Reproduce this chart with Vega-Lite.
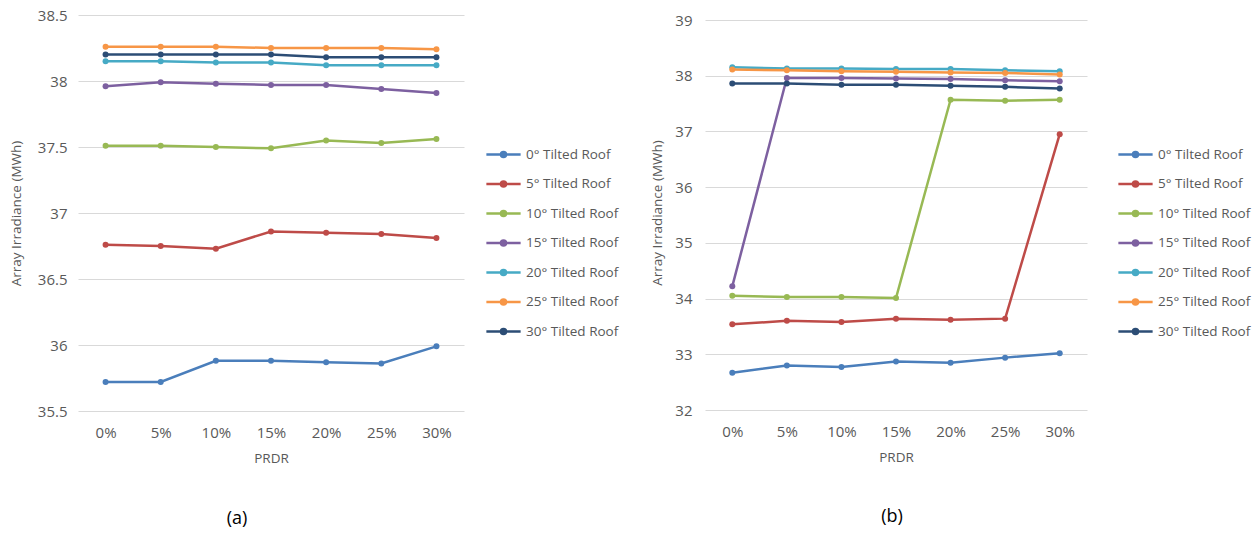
{
  "$schema": "https://vega.github.io/schema/vega-lite/v6.json",
  "background": "white",
  "padding": {"left": 9, "top": 8, "right": 5, "bottom": 5},
  "config": {
    "font": "Open Sans",
    "view": {"stroke": null},
    "axis": {"labelColor": "#595959", "titleColor": "#595959", "labelFontSize": 15, "titleFontSize": 13.5, "titleFontWeight": "normal", "ticks": false, "domain": false, "gridColor": "#d9d9d9", "gridWidth": 1},
    "legend": {"labelColor": "#595959", "labelFontSize": 13.5, "symbolType": "M-0.95,0L0.95,0M0.14,0A0.14,0.14,0,1,1,-0.14,0A0.14,0.14,0,1,1,0.14,0Z", "symbolSize": 1300, "symbolStrokeWidth": 2.5, "rowPadding": 1.5, "labelOffset": 3},
    "title": {"fontSize": 18, "fontWeight": "normal", "color": "#000000", "font": "Open Sans"}
  },
  "datasets": {
    "a": [
      {"prdr": "0%", "roof": "0° Tilted Roof", "value": 35.72},
      {"prdr": "5%", "roof": "0° Tilted Roof", "value": 35.72},
      {"prdr": "10%", "roof": "0° Tilted Roof", "value": 35.88},
      {"prdr": "15%", "roof": "0° Tilted Roof", "value": 35.88},
      {"prdr": "20%", "roof": "0° Tilted Roof", "value": 35.87},
      {"prdr": "25%", "roof": "0° Tilted Roof", "value": 35.86},
      {"prdr": "30%", "roof": "0° Tilted Roof", "value": 35.99},
      {"prdr": "0%", "roof": "5° Tilted Roof", "value": 36.76},
      {"prdr": "5%", "roof": "5° Tilted Roof", "value": 36.75},
      {"prdr": "10%", "roof": "5° Tilted Roof", "value": 36.73},
      {"prdr": "15%", "roof": "5° Tilted Roof", "value": 36.86},
      {"prdr": "20%", "roof": "5° Tilted Roof", "value": 36.85},
      {"prdr": "25%", "roof": "5° Tilted Roof", "value": 36.84},
      {"prdr": "30%", "roof": "5° Tilted Roof", "value": 36.81},
      {"prdr": "0%", "roof": "10° Tilted Roof", "value": 37.51},
      {"prdr": "5%", "roof": "10° Tilted Roof", "value": 37.51},
      {"prdr": "10%", "roof": "10° Tilted Roof", "value": 37.50},
      {"prdr": "15%", "roof": "10° Tilted Roof", "value": 37.49},
      {"prdr": "20%", "roof": "10° Tilted Roof", "value": 37.55},
      {"prdr": "25%", "roof": "10° Tilted Roof", "value": 37.53},
      {"prdr": "30%", "roof": "10° Tilted Roof", "value": 37.56},
      {"prdr": "0%", "roof": "15° Tilted Roof", "value": 37.96},
      {"prdr": "5%", "roof": "15° Tilted Roof", "value": 37.99},
      {"prdr": "10%", "roof": "15° Tilted Roof", "value": 37.98},
      {"prdr": "15%", "roof": "15° Tilted Roof", "value": 37.97},
      {"prdr": "20%", "roof": "15° Tilted Roof", "value": 37.97},
      {"prdr": "25%", "roof": "15° Tilted Roof", "value": 37.94},
      {"prdr": "30%", "roof": "15° Tilted Roof", "value": 37.91},
      {"prdr": "0%", "roof": "20° Tilted Roof", "value": 38.15},
      {"prdr": "5%", "roof": "20° Tilted Roof", "value": 38.15},
      {"prdr": "10%", "roof": "20° Tilted Roof", "value": 38.14},
      {"prdr": "15%", "roof": "20° Tilted Roof", "value": 38.14},
      {"prdr": "20%", "roof": "20° Tilted Roof", "value": 38.12},
      {"prdr": "25%", "roof": "20° Tilted Roof", "value": 38.12},
      {"prdr": "30%", "roof": "20° Tilted Roof", "value": 38.12},
      {"prdr": "0%", "roof": "25° Tilted Roof", "value": 38.26},
      {"prdr": "5%", "roof": "25° Tilted Roof", "value": 38.26},
      {"prdr": "10%", "roof": "25° Tilted Roof", "value": 38.26},
      {"prdr": "15%", "roof": "25° Tilted Roof", "value": 38.25},
      {"prdr": "20%", "roof": "25° Tilted Roof", "value": 38.25},
      {"prdr": "25%", "roof": "25° Tilted Roof", "value": 38.25},
      {"prdr": "30%", "roof": "25° Tilted Roof", "value": 38.24},
      {"prdr": "0%", "roof": "30° Tilted Roof", "value": 38.20},
      {"prdr": "5%", "roof": "30° Tilted Roof", "value": 38.20},
      {"prdr": "10%", "roof": "30° Tilted Roof", "value": 38.20},
      {"prdr": "15%", "roof": "30° Tilted Roof", "value": 38.20},
      {"prdr": "20%", "roof": "30° Tilted Roof", "value": 38.18},
      {"prdr": "25%", "roof": "30° Tilted Roof", "value": 38.18},
      {"prdr": "30%", "roof": "30° Tilted Roof", "value": 38.18}
    ],
    "b": [
      {"prdr": "0%", "roof": "0° Tilted Roof", "value": 32.67},
      {"prdr": "5%", "roof": "0° Tilted Roof", "value": 32.80},
      {"prdr": "10%", "roof": "0° Tilted Roof", "value": 32.77},
      {"prdr": "15%", "roof": "0° Tilted Roof", "value": 32.87},
      {"prdr": "20%", "roof": "0° Tilted Roof", "value": 32.85},
      {"prdr": "25%", "roof": "0° Tilted Roof", "value": 32.94},
      {"prdr": "30%", "roof": "0° Tilted Roof", "value": 33.02},
      {"prdr": "0%", "roof": "5° Tilted Roof", "value": 33.54},
      {"prdr": "5%", "roof": "5° Tilted Roof", "value": 33.60},
      {"prdr": "10%", "roof": "5° Tilted Roof", "value": 33.58},
      {"prdr": "15%", "roof": "5° Tilted Roof", "value": 33.64},
      {"prdr": "20%", "roof": "5° Tilted Roof", "value": 33.62},
      {"prdr": "25%", "roof": "5° Tilted Roof", "value": 33.64},
      {"prdr": "30%", "roof": "5° Tilted Roof", "value": 36.95},
      {"prdr": "0%", "roof": "10° Tilted Roof", "value": 34.05},
      {"prdr": "5%", "roof": "10° Tilted Roof", "value": 34.03},
      {"prdr": "10%", "roof": "10° Tilted Roof", "value": 34.03},
      {"prdr": "15%", "roof": "10° Tilted Roof", "value": 34.01},
      {"prdr": "20%", "roof": "10° Tilted Roof", "value": 37.57},
      {"prdr": "25%", "roof": "10° Tilted Roof", "value": 37.55},
      {"prdr": "30%", "roof": "10° Tilted Roof", "value": 37.57},
      {"prdr": "0%", "roof": "15° Tilted Roof", "value": 34.22},
      {"prdr": "5%", "roof": "15° Tilted Roof", "value": 37.96},
      {"prdr": "10%", "roof": "15° Tilted Roof", "value": 37.96},
      {"prdr": "15%", "roof": "15° Tilted Roof", "value": 37.95},
      {"prdr": "20%", "roof": "15° Tilted Roof", "value": 37.94},
      {"prdr": "25%", "roof": "15° Tilted Roof", "value": 37.92},
      {"prdr": "30%", "roof": "15° Tilted Roof", "value": 37.90},
      {"prdr": "0%", "roof": "20° Tilted Roof", "value": 38.15},
      {"prdr": "5%", "roof": "20° Tilted Roof", "value": 38.13},
      {"prdr": "10%", "roof": "20° Tilted Roof", "value": 38.13},
      {"prdr": "15%", "roof": "20° Tilted Roof", "value": 38.12},
      {"prdr": "20%", "roof": "20° Tilted Roof", "value": 38.12},
      {"prdr": "25%", "roof": "20° Tilted Roof", "value": 38.10},
      {"prdr": "30%", "roof": "20° Tilted Roof", "value": 38.08},
      {"prdr": "0%", "roof": "25° Tilted Roof", "value": 38.11},
      {"prdr": "5%", "roof": "25° Tilted Roof", "value": 38.10},
      {"prdr": "10%", "roof": "25° Tilted Roof", "value": 38.08},
      {"prdr": "15%", "roof": "25° Tilted Roof", "value": 38.07},
      {"prdr": "20%", "roof": "25° Tilted Roof", "value": 38.06},
      {"prdr": "25%", "roof": "25° Tilted Roof", "value": 38.05},
      {"prdr": "30%", "roof": "25° Tilted Roof", "value": 38.02},
      {"prdr": "0%", "roof": "30° Tilted Roof", "value": 37.86},
      {"prdr": "5%", "roof": "30° Tilted Roof", "value": 37.86},
      {"prdr": "10%", "roof": "30° Tilted Roof", "value": 37.84},
      {"prdr": "15%", "roof": "30° Tilted Roof", "value": 37.84},
      {"prdr": "20%", "roof": "30° Tilted Roof", "value": 37.82},
      {"prdr": "25%", "roof": "30° Tilted Roof", "value": 37.80},
      {"prdr": "30%", "roof": "30° Tilted Roof", "value": 37.77}
    ]
  },
  "resolve": {"scale": {"color": "independent"}, "legend": {"color": "independent"}},
  "spacing": 31,
  "hconcat": [
    {
      "width": 386,
      "height": 396,
      "data": {"name": "a"},
      "title": {"text": "(a)", "orient": "bottom", "frame": "group", "anchor": "middle", "dx": -34, "offset": 45},
      "mark": {"type": "line", "strokeWidth": 2.5, "point": {"filled": true, "size": 36}},
      "encoding": {
        "x": {"field": "prdr", "type": "ordinal", "sort": ["0%", "5%", "10%", "15%", "20%", "25%", "30%"], "scale": {"type": "point", "padding": 0.5}, "axis": {"title": "PRDR", "labelAngle": 0, "grid": false, "labelPadding": 14, "titlePadding": 11}},
        "y": {"field": "value", "type": "quantitative", "scale": {"domain": [35.5, 38.5], "zero": false, "nice": false}, "axis": {"title": "Array Irradiance (MWh)", "values": [35.5, 36, 36.5, 37, 37.5, 38, 38.5], "format": "~g", "labelPadding": 11, "titlePadding": 14}},
        "color": {"field": "roof", "type": "nominal", "scale": {"domain": ["0° Tilted Roof", "5° Tilted Roof", "10° Tilted Roof", "15° Tilted Roof", "20° Tilted Roof", "25° Tilted Roof", "30° Tilted Roof"], "range": ["#4A7EBB", "#BE4B48", "#98B954", "#7D60A0", "#46AAC5", "#F79646", "#2C4D75"]}, "legend": {"title": null, "orient": "none", "legendX": 406, "legendY": 120}}
      }
    },
    {
      "width": 382,
      "height": 395,
      "data": {"name": "b"},
      "title": {"text": "(b)", "orient": "bottom", "frame": "group", "anchor": "middle", "dx": -4, "offset": 44},
      "mark": {"type": "line", "strokeWidth": 2.5, "point": {"filled": true, "size": 36}},
      "encoding": {
        "x": {"field": "prdr", "type": "ordinal", "sort": ["0%", "5%", "10%", "15%", "20%", "25%", "30%"], "scale": {"type": "point", "padding": 0.5}, "axis": {"title": "PRDR", "labelAngle": 0, "grid": false, "labelPadding": 14, "titlePadding": 11}},
        "y": {"field": "value", "type": "quantitative", "scale": {"domain": [32, 39.09], "zero": false, "nice": false}, "axis": {"title": "Array Irradiance (MWh)", "values": [32, 33, 34, 35, 36, 37, 38, 39], "format": "~g", "labelPadding": 13, "titlePadding": 10}},
        "color": {"field": "roof", "type": "nominal", "scale": {"domain": ["0° Tilted Roof", "5° Tilted Roof", "10° Tilted Roof", "15° Tilted Roof", "20° Tilted Roof", "25° Tilted Roof", "30° Tilted Roof"], "range": ["#4A7EBB", "#BE4B48", "#98B954", "#7D60A0", "#46AAC5", "#F79646", "#2C4D75"]}, "legend": {"title": null, "orient": "none", "legendX": 411, "legendY": 120}}
      }
    }
  ]
}
